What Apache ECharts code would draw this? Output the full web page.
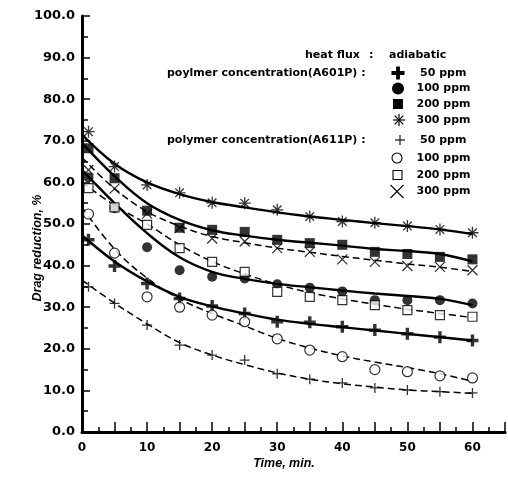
<!DOCTYPE html>
<html><head><meta charset="utf-8">
<script src="https://cdn.jsdelivr.net/npm/echarts@6/dist/echarts.min.js"></script>
<style>html,body{margin:0;padding:0;background:#fff}#c{width:508px;height:478px}</style>
</head><body><div id="c"></div>
<script>
// ---- data ----
const times = [1, 5, 10, 15, 20, 25, 30, 35, 40, 45, 50, 55, 60];
const a601_50  = [46.2, 39.9, 35.7, 32.1, 30.3, 28.5, 26.5, 26.4, 25.3, 24.5, 23.6, 22.8, 22.0];
const a601_100 = [61.2, 53.8, 44.4, 38.9, 37.3, 36.9, 35.5, 34.7, 33.8, 31.7, 31.7, 31.7, 30.9];
const a601_200 = [68.2, 61.0, 53.2, 49.1, 48.6, 48.1, 46.2, 45.4, 45.0, 43.3, 42.8, 42.1, 41.5];
const a601_300 = [72.2, 63.8, 59.4, 57.5, 55.1, 55.0, 53.4, 51.8, 50.6, 50.3, 49.5, 48.7, 47.9];
const a611_50  = [34.9, 30.9, 25.7, 20.9, 18.5, 17.3, 14.0, 12.7, 11.8, 10.6, 10.1, 9.7, 9.4];
const a611_100 = [52.4, 43.0, 32.5, 30.0, 28.1, 26.5, 22.4, 19.7, 18.1, 15.0, 14.5, 13.5, 13.0];
const a611_200 = [58.6, 54.0, 49.8, 44.2, 40.9, 38.5, 33.7, 32.5, 31.7, 30.5, 29.3, 28.1, 27.7];
const a611_300 = [63.0, 58.5, 52.5, 49.0, 46.5, 45.8, 44.2, 43.3, 41.5, 40.9, 39.9, 39.7, 38.9];

// fitted curves
const fitTimes = [0, 5, 10, 15, 20, 25, 30, 35, 40, 45, 50, 55, 60];
const fit601_50  = [47.3, 41.0, 36.2, 32.5, 30.2, 28.5, 27.0, 26.0, 25.2, 24.4, 23.6, 22.8, 22.0];
const fit601_100 = [63.0, 55.0, 47.8, 42.0, 38.5, 36.8, 35.6, 34.8, 34.0, 33.3, 32.7, 32.0, 30.5];
const fit601_200 = [69.5, 61.5, 55.0, 51.0, 48.5, 47.2, 46.2, 45.5, 44.8, 44.0, 43.5, 42.8, 41.0];
const fit601_300 = [71.5, 64.5, 60.0, 57.2, 55.3, 54.0, 52.8, 51.8, 51.0, 50.2, 49.5, 48.7, 47.6];
const fit611_50  = [36.5, 31.0, 26.0, 21.5, 18.5, 16.2, 14.2, 12.7, 11.6, 10.8, 10.1, 9.7, 9.3];
const fit611_100 = [54.0, 44.0, 37.0, 32.0, 28.5, 25.5, 22.5, 20.2, 18.3, 16.8, 15.5, 14.0, 12.2];
const fit611_200 = [60.0, 54.5, 50.0, 45.0, 41.0, 38.0, 35.5, 33.5, 32.0, 30.7, 29.5, 28.5, 27.5];
const fit611_300 = [66.0, 58.5, 53.0, 49.5, 47.0, 45.5, 44.2, 43.2, 42.2, 41.3, 40.4, 39.6, 38.6];

const legendHead = ['heat flux', ':', 'adiabatic'];
const legend601Title = 'poylmer concentration(A601P) :';
const legend611Title = 'polymer concentration(A611P) :';
const concLabels = ['50 ppm', '100 ppm', '200 ppm', '300 ppm'];
const xTitle = 'Time, min.';
const yTitle = 'Drag reduction, %';

// ---- symbols ----
const P_BOLDPLUS = 'M-1.7,-6 L1.7,-6 L1.7,-1.7 L6,-1.7 L6,1.7 L1.7,1.7 L1.7,6 L-1.7,6 L-1.7,1.7 L-6,1.7 L-6,-1.7 L-1.7,-1.7 Z';
const P_ASTER = 'M0,-6 L0,6 M-6,0 L6,0 M-4.3,-4.3 L4.3,4.3 M-4.3,4.3 L4.3,-4.3';
const P_PLUS = 'M0,-6 L0,6 M-6,0 L6,0';
const P_X = 'M-6,-6 L6,6 M-6,6 L6,-6';

const FILL = {color: '#000', borderColor: '#000', borderWidth: 0};
const STROKE = {color: 'transparent', borderColor: '#000', borderWidth: 1.3};
const OPEN = {color: '#fff', borderColor: '#000', borderWidth: 1.2};

const groups = [
  {pts: a601_50,  fit: fit601_50,  symbol: 'path://' + P_BOLDPLUS, size: 12, st: FILL,   dash: false},
  {pts: a601_100, fit: fit601_100, symbol: 'circle',               size: 10, st: FILL,   dash: false},
  {pts: a601_200, fit: fit601_200, symbol: 'rect',                 size: 10, st: FILL,   dash: false},
  {pts: a601_300, fit: fit601_300, symbol: 'path://' + P_ASTER,    size: 12, st: STROKE, dash: false},
  {pts: a611_50,  fit: fit611_50,  symbol: 'path://' + P_PLUS,     size: 10, st: STROKE, dash: true},
  {pts: a611_100, fit: fit611_100, symbol: 'circle',               size: 10, st: OPEN,   dash: true},
  {pts: a611_200, fit: fit611_200, symbol: 'rect',                 size: 9,  st: OPEN,   dash: true},
  {pts: a611_300, fit: fit611_300, symbol: 'path://' + P_X,        size: 10, st: STROKE, dash: true}
];
const names = ['A601P 50 ppm','A601P 100 ppm','A601P 200 ppm','A601P 300 ppm','A611P 50 ppm','A611P 100 ppm','A611P 200 ppm','A611P 300 ppm'];

const series = [];
groups.forEach((g, i) => {
  series.push({
    name: names[i] + ' fit', type: 'line', smooth: 0.4, showSymbol: false, silent: true, z: 2,
    data: fitTimes.map((t, k) => [t, g.fit[k]]),
    lineStyle: {color: '#000', width: g.dash ? 1.5 : 2.4, type: g.dash ? [7, 4] : 'solid'}
  });
});
groups.forEach((g, i) => {
  series.push({
    name: names[i], type: 'scatter', z: 5, symbol: g.symbol, symbolSize: g.size,
    data: times.map((t, k) => [t, g.pts[k]]),
    itemStyle: Object.assign({}, g.st)
  });
});

// ---- legend graphics ----
const FONT = {fontFamily: 'DejaVu Sans', fontWeight: 'bold', fontSize: 11, fill: '#000'};
function txt(s, x, y, extra) {
  return {type: 'text', x: x, y: y, z: 100, style: Object.assign({text: s, align: 'left', verticalAlign: 'middle'}, FONT, extra || {})};
}
function lines(x, y, segs, w) {
  return {type: 'group', x: x, y: y, z: 100, children: segs.map(s => ({
    type: 'line', z: 100, shape: {x1: s[0], y1: s[1], x2: s[2], y2: s[3]}, style: {stroke: '#000', lineWidth: w}
  }))};
}
const gx = 398;
const rows601 = [73, 88.5, 104, 120];
const rows611 = [140, 158, 175, 191.5];
const graphic = [
  txt(legendHead[0], 305, 55), txt(legendHead[1], 369, 55), txt(legendHead[2], 389, 55),
  txt(legend601Title, 167, 73), txt(legend611Title, 167, 140),
  {type: 'polygon', z: 100, x: gx, y: rows601[0], shape: {points: [[-1.9,-6.5],[1.9,-6.5],[1.9,-1.9],[6.5,-1.9],[6.5,1.9],[1.9,1.9],[1.9,6.5],[-1.9,6.5],[-1.9,1.9],[-6.5,1.9],[-6.5,-1.9],[-1.9,-1.9]]}, style: {fill: '#000'}},
  {type: 'circle', z: 100, shape: {cx: gx, cy: rows601[1], r: 6}, style: {fill: '#000'}},
  {type: 'rect', z: 100, shape: {x: gx - 5, y: rows601[2] - 5, width: 10, height: 10}, style: {fill: '#000'}},
  lines(gx + 1, rows601[3], [[0,-6,0,6],[-6,0,6,0],[-4.3,-4.3,4.3,4.3],[-4.3,4.3,4.3,-4.3]], 1.2),
  lines(gx + 2, rows611[0], [[0,-5,0,5],[-5,0,5,0]], 1.1),
  {type: 'circle', z: 100, shape: {cx: gx - 1, cy: rows611[1], r: 5}, style: {fill: null, stroke: '#000', lineWidth: 1.1}},
  {type: 'rect', z: 100, shape: {x: gx - 5, y: rows611[2] - 4.5, width: 9, height: 9}, style: {fill: null, stroke: '#000', lineWidth: 1.1}},
  lines(gx - 1, rows611[3], [[-6.5,-6.5,6.5,6.5],[-6.5,6.5,6.5,-6.5]], 1.1),
  {type: 'text', x: 38, y: 248, rotation: Math.PI / 2, z: 100,
    style: {text: yTitle, align: 'center', verticalAlign: 'middle', fontFamily: 'Liberation Sans', fontWeight: 'bold', fontStyle: 'italic', fontSize: 12.5, fill: '#000'}},
  {type: 'text', x: 284, y: 464, z: 100,
    style: {text: xTitle, align: 'center', verticalAlign: 'middle', fontFamily: 'Liberation Sans', fontWeight: 'bold', fontStyle: 'italic', fontSize: 12.5, fill: '#000'}}
];
concLabels.forEach((s, i) => {
  graphic.push(txt(s, i === 0 ? 420 : 416.5, rows601[i]));
  graphic.push(txt(s, i === 0 ? 420 : 416.5, rows611[i]));
});

const chart = echarts.init(document.getElementById('c'), null, {renderer: 'canvas'});
chart.setOption({
  animation: false,
  backgroundColor: '#fff',
  grid: {left: 82, top: 16, width: 429, height: 416, containLabel: false},
  xAxis: {
    type: 'value', min: 0, max: 65, interval: 5,
    axisLine: {lineStyle: {color: '#000', width: 3}},
    axisTick: {inside: true, length: 10, lineStyle: {color: '#000', width: 1.5}},
    minorTick: {show: true, splitNumber: 2, length: 5, lineStyle: {color: '#000', width: 1.5}},
    axisLabel: {margin: 10, color: '#000', fontFamily: 'DejaVu Sans', fontWeight: 'bold', fontSize: 12,
      formatter: v => (v % 10 === 0 && v <= 60) ? String(v) : ''},
    splitLine: {show: false}
  },
  yAxis: {
    type: 'value', min: 0, max: 100, interval: 10,
    axisLine: {show: true, lineStyle: {color: '#000', width: 3}},
    axisTick: {show: true, inside: true, length: 8, lineStyle: {color: '#000', width: 1.5}},
    minorTick: {show: true, splitNumber: 2, length: 6, lineStyle: {color: '#000', width: 1.5}},
    axisLabel: {margin: 7, color: '#000', fontFamily: 'DejaVu Sans', fontWeight: 'bold', fontSize: 13,
      formatter: v => v.toFixed(1)},
    splitLine: {show: false}
  },
  series: series,
  graphic: graphic
});
</script></body></html>
